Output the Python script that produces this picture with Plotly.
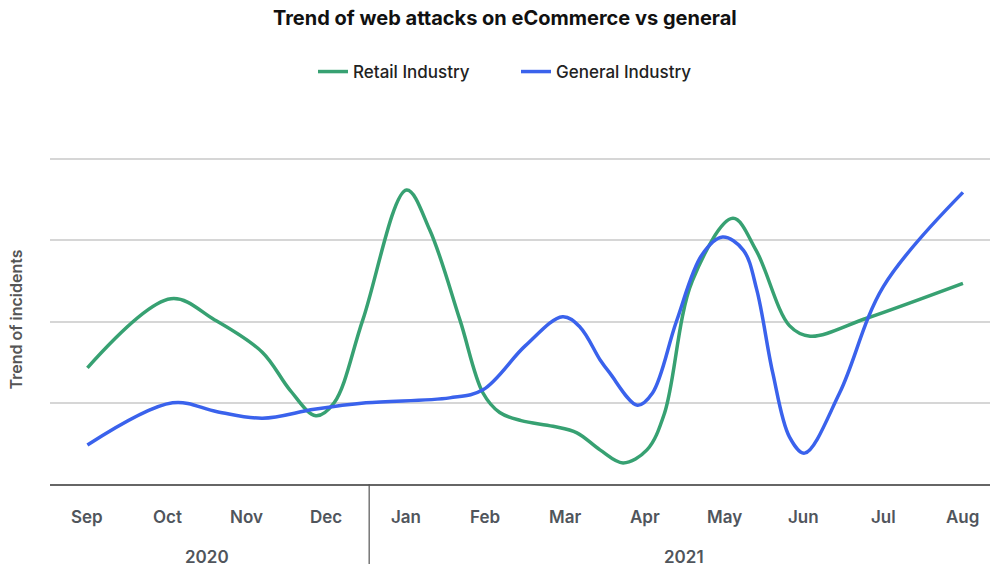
import plotly.graph_objects as go

# Time is measured in months after September 2020 (0 = Sep 2020, 11 = Aug 2021)
month_labels = ["Sep", "Oct", "Nov", "Dec", "Jan", "Feb", "Mar", "Apr", "May", "Jun", "Jul", "Aug"]
year_labels = ["2020", "2021"]
year_centres = [1.5, 7.5]

retail_t = [0, 1.05, 1.6, 2.2, 2.55, 2.87, 3.1, 3.46, 4.01, 4.3, 4.68, 4.97, 5.18,
            5.45, 5.85, 6.15, 6.44, 6.73, 7.03, 7.25, 7.6, 8.11, 8.4, 8.82,
            9.08, 9.79, 11.0]
retail_v = [1.43, 2.28, 2.02, 1.62, 1.15, 0.84, 1.0, 2.02, 3.62, 3.13, 2.02, 1.12, 0.88,
            0.78, 0.71, 0.63, 0.42, 0.26, 0.42, 0.87, 2.5, 3.27, 2.88, 1.95,
            1.82, 2.04, 2.47]

general_t = [0, 1.07, 1.63, 2.2, 2.85, 3.5, 4.55, 4.97, 5.5, 5.97, 6.19,
             6.44, 6.56, 6.91, 7.1, 7.4, 7.72, 7.98, 8.24, 8.41, 8.61, 8.82, 9.01,
             9.45, 10.0, 11.0]
general_v = [0.48, 1.0, 0.89, 0.81, 0.92, 1.0, 1.06, 1.16, 1.7, 2.06, 1.93,
             1.53, 1.37, 0.97, 1.12, 2.0, 2.82, 3.04, 2.88, 2.39, 1.37, 0.58, 0.38,
             1.12, 2.43, 3.59]

GREEN = "#37a172"
BLUE = "#3a62ec"
FONT = "Inter"
LABEL_GREY = "#50555c"

fig = go.Figure()
fig.add_trace(go.Scatter(x=retail_t, y=retail_v, name="Retail Industry", mode="lines",
                         line=dict(color=GREEN, width=3.5, shape="spline", smoothing=1)))
fig.add_trace(go.Scatter(x=general_t, y=general_v, name="General Industry", mode="lines",
                         line=dict(color=BLUE, width=3.5, shape="spline", smoothing=1)))

# month and year labels under the axis
annotations = []
for i, m in enumerate(month_labels):
    annotations.append(dict(x=i, y=0, xref="x", yref="paper", text=m, showarrow=False,
                            yanchor="middle", yshift=-33,
                            font=dict(family=FONT, size=17, color=LABEL_GREY, weight=600)))
for xc, yl in zip(year_centres, year_labels):
    annotations.append(dict(x=xc, y=0, xref="x", yref="paper", text=yl, showarrow=False,
                            yanchor="middle", yshift=-73,
                            font=dict(family=FONT, size=17, color=LABEL_GREY, weight=600)))

fig.update_layout(
    width=990, height=568,
    margin=dict(l=50, r=0, t=155, b=84),
    paper_bgcolor="white", plot_bgcolor="white",
    font=dict(family=FONT, color="#222222"),
    title=dict(text="Trend of web attacks on eCommerce vs general",
               x=0.51, xanchor="center", y=0.968, yanchor="middle", yref="container",
               font=dict(family=FONT, size=20, color="#111111", weight=700)),
    legend=dict(orientation="h", xref="container", x=313 / 990, xanchor="left",
                yref="container", y=1 - 72 / 568, yanchor="middle",
                font=dict(family=FONT, size=17, color="#222222", weight=500),
                entrywidth=158, itemwidth=30),
    showlegend=True,
    xaxis=dict(range=[-0.47, 11.34], showgrid=False, zeroline=False, showticklabels=False,
               showline=True, linecolor="#666666", linewidth=1.5, ticks=""),
    yaxis=dict(range=[0, 4.05], dtick=1, showgrid=True, gridcolor="#d6d6d6", gridwidth=2,
               zeroline=False, showticklabels=False, showline=False,
               title=dict(text="Trend of incidents", standoff=22,
                          font=dict(family=FONT, size=16, color="#555555", weight=600))),
    annotations=annotations,
    shapes=[dict(type="line", xref="x", yref="paper", x0=3.54, x1=3.54, y0=0, y1=-80 / 329,
                 line=dict(color="#555555", width=1.2))],
)

fig.write_html("out.html")
